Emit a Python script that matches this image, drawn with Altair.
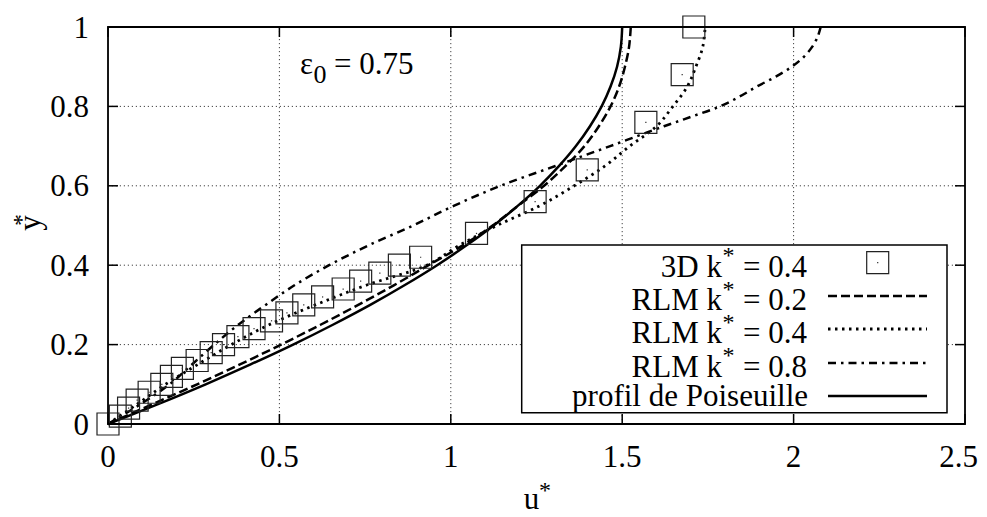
import altair as alt
import pandas as pd

# ---------------- data ----------------
Y_LEVELS = [0.0, 0.05, 0.10, 0.15, 0.20, 0.25, 0.30, 0.35, 0.40, 0.45, 0.50,
            0.55, 0.60, 0.65, 0.70, 0.75, 0.80, 0.85, 0.90, 0.95, 1.00]
U_POISEUILLE = [0.0, 0.146, 0.285, 0.416, 0.54, 0.656, 0.765, 0.866, 0.96, 1.046, 1.125,
                1.196, 1.26, 1.316, 1.365, 1.406, 1.44, 1.466, 1.485, 1.496, 1.50]
U_RLM_02 = [0.0, 0.13, 0.26, 0.385, 0.505, 0.62, 0.73, 0.835, 0.935, 1.035, 1.122,
            1.197, 1.272, 1.335, 1.39, 1.432, 1.466, 1.491, 1.508, 1.52, 1.525]
U_RLM_04 = [0.0, 0.085, 0.168, 0.262, 0.36, 0.47, 0.605, 0.755, 0.93, 1.025, 1.135,
            1.26, 1.36, 1.45, 1.522, 1.60, 1.648, 1.69, 1.715, 1.735, 1.742]
Y_RLM_08 = [0.0, 0.05, 0.10, 0.15, 0.20, 0.25, 0.30, 0.35, 0.40, 0.45, 0.50,
            0.55, 0.60, 0.65, 0.70, 0.75, 0.775, 0.80, 0.825, 0.85, 0.875,
            0.90, 0.925, 0.95, 0.975, 1.00]
U_RLM_08 = [0.0, 0.095, 0.18, 0.245, 0.31, 0.38, 0.46, 0.545, 0.645, 0.76, 0.89,
            1.01, 1.145, 1.305, 1.465, 1.622, 1.705, 1.785, 1.843, 1.893, 1.948,
            1.995, 2.03, 2.054, 2.07, 2.079]

SQ_U = [0.0, 0.036, 0.060, 0.085, 0.120, 0.157, 0.185, 0.217, 0.260, 0.301, 0.337,
        0.379, 0.426, 0.477, 0.522, 0.571, 0.626, 0.686, 0.737, 0.793, 0.850, 0.912,
        1.075, 1.246, 1.398, 1.569, 1.675, 1.709]
SQ_Y = [0.0, 0.02, 0.04, 0.06, 0.08, 0.10, 0.12, 0.14, 0.16, 0.18, 0.20,
        0.22, 0.24, 0.26, 0.28, 0.30, 0.32, 0.34, 0.36, 0.38, 0.40, 0.42,
        0.48, 0.56, 0.64, 0.76, 0.88, 1.00]

X_TICKS = [0, 0.5, 1, 1.5, 2, 2.5]
X_LABELS = ["0", "0.5", "1", "1.5", "2", "2.5"]
Y_TICKS = [0, 0.2, 0.4, 0.6, 0.8, 1]
Y_LABELS = ["0", "0.2", "0.4", "0.6", "0.8", "1"]

LEG_LEFT = ["3D k", "RLM k", "RLM k", "RLM k"]
LEG_RIGHT = ["= 0.4", "= 0.2", "= 0.4", "= 0.8"]
LEG_LAST = "profil de Poiseuille"

# ---------------- layout ----------------
W, H = 857, 397
PAD_R = 14
FONT = "Liberation Serif"
FS = 31
LW = 2.5

xs = alt.Scale(domain=[0, 2.5], nice=False, zero=False)
ys = alt.Scale(domain=[0, 1], nice=False, zero=False)
X = lambda f: alt.X(f, scale=xs, axis=None)
Y = lambda f: alt.Y(f, scale=ys, axis=None)

one = pd.DataFrame({"k": [0]})
layers = []

# grid (interior ticks only)
gx = pd.DataFrame({"v": X_TICKS[1:-1]})
gy = pd.DataFrame({"v": Y_TICKS[1:-1]})
layers.append(alt.Chart(gx).mark_rule(color="#444", strokeWidth=1, strokeDash=[1.2, 2.8])
              .encode(x=X("v:Q")))
layers.append(alt.Chart(gy).mark_rule(color="#444", strokeWidth=1, strokeDash=[1.2, 2.8])
              .encode(y=Y("v:Q")))

# curves
series = [(U_RLM_02, Y_LEVELS, [9, 4], LW),
          (U_RLM_04, Y_LEVELS, [2.5, 4.5], 2.8),
          (U_RLM_08, Y_RLM_08, [8, 5, 2.5, 5], LW),
          (U_POISEUILLE, Y_LEVELS, None, LW)]
for us, yv, dash, lw in series:
    df = pd.DataFrame({"u": us, "y": yv, "i": list(range(len(us)))})
    kw = dict(color="black", strokeWidth=lw, interpolate="catmull-rom")
    if dash is not None:
        kw["strokeDash"] = dash
    layers.append(alt.Chart(df).mark_line(**kw)
                  .encode(x=X("u:Q"), y=Y("y:Q"), order="i:Q"))

# 3D squares
sq = pd.DataFrame({"u": SQ_U, "y": SQ_Y})
layers.append(alt.Chart(sq).mark_point(shape="square", size=484, filled=False,
                                        stroke="#222", strokeWidth=1.2, opacity=1)
              .encode(x=X("u:Q"), y=Y("y:Q")))
layers.append(alt.Chart(sq).mark_point(shape="square", size=1.5, filled=True,
                                        color="#333", opacity=1)
              .encode(x=X("u:Q"), y=Y("y:Q")))

# inward ticks on all four sides
tx = pd.DataFrame({"v": X_TICKS, "lab": X_LABELS})
ty = pd.DataFrame({"v": Y_TICKS, "lab": Y_LABELS})
TL = 10
layers.append(alt.Chart(tx).mark_rule(color="black", strokeWidth=1.5)
              .encode(x=X("v:Q"), y=alt.value(H), y2=alt.value(H - TL)))
layers.append(alt.Chart(tx).mark_rule(color="black", strokeWidth=1.5)
              .encode(x=X("v:Q"), y=alt.value(0), y2=alt.value(TL)))
layers.append(alt.Chart(ty).mark_rule(color="black", strokeWidth=1.5)
              .encode(y=Y("v:Q"), x=alt.value(0), x2=alt.value(TL)))
layers.append(alt.Chart(ty).mark_rule(color="black", strokeWidth=1.5)
              .encode(y=Y("v:Q"), x=alt.value(W), x2=alt.value(W - TL)))

# tick labels (last x label kept inside the page edge)
layers.append(alt.Chart(tx.iloc[:-1]).mark_text(font=FONT, fontSize=FS, align="center",
                                                 baseline="alphabetic", color="black")
              .encode(x=X("v:Q"), y=alt.value(440), text="lab:N"))
layers.append(alt.Chart(tx.iloc[-1:]).mark_text(font=FONT, fontSize=FS, align="right",
                                                 baseline="alphabetic", color="black")
              .encode(x=alt.value(W + PAD_R - 1), y=alt.value(440), text="lab:N"))
layers.append(alt.Chart(ty).mark_text(font=FONT, fontSize=FS, align="right",
                                       baseline="alphabetic", dy=10.5, color="black")
              .encode(y=Y("v:Q"), x=alt.value(-19), text="lab:N"))

# legend box
LX0, LX1, LY0, LY1 = 413.7, 839, 218, 385.7
layers.append(alt.Chart(one).mark_rect(fill="white", stroke="black", strokeWidth=1.5)
              .encode(x=alt.value(LX0), x2=alt.value(LX1), y=alt.value(LY0), y2=alt.value(LY1)))

SAMPLE_Y = [235.7, 269, 302, 336, 369]
TEXT_BL = [249.7, 283, 316.3, 349.7, 379]
layers.append(alt.Chart(one).mark_point(shape="square", size=484, filled=False,
                                         stroke="#222", strokeWidth=1.2, opacity=1)
              .encode(x=alt.value(769.7), y=alt.value(SAMPLE_Y[0])))
layers.append(alt.Chart(one).mark_point(shape="square", size=1.5, filled=True,
                                         color="#333", opacity=1)
              .encode(x=alt.value(769.7), y=alt.value(SAMPLE_Y[0])))
for (us, yv, dash, lw), sy in zip(series, SAMPLE_Y[1:]):
    kw = dict(color="black", strokeWidth=lw)
    if dash is not None:
        kw["strokeDash"] = dash
    layers.append(alt.Chart(one).mark_rule(**kw)
                  .encode(x=alt.value(720), x2=alt.value(819), y=alt.value(sy)))

for left, right, bl in zip(LEG_LEFT, LEG_RIGHT, TEXT_BL[:4]):
    layers.append(alt.Chart(one).mark_text(font=FONT, fontSize=FS, align="right",
                                            baseline="alphabetic", text=left)
                  .encode(x=alt.value(614), y=alt.value(bl)))
    layers.append(alt.Chart(one).mark_text(font=FONT, fontSize=24, align="center",
                                            baseline="alphabetic", text="*")
                  .encode(x=alt.value(620.5), y=alt.value(bl - 13.3)))
    layers.append(alt.Chart(one).mark_text(font=FONT, fontSize=FS, align="left",
                                            baseline="alphabetic", text=right)
                  .encode(x=alt.value(635), y=alt.value(bl)))
layers.append(alt.Chart(one).mark_text(font=FONT, fontSize=FS, align="right",
                                        baseline="alphabetic", text=LEG_LAST)
              .encode(x=alt.value(700), y=alt.value(TEXT_BL[4])))

# annotation epsilon_0 = 0.75
layers.append(alt.Chart(one).mark_text(font=FONT, fontSize=FS, align="left",
                                        baseline="alphabetic", text="ε")
              .encode(x=alt.value(192), y=alt.value(47)))
layers.append(alt.Chart(one).mark_text(font=FONT, fontSize=26, align="left",
                                        baseline="alphabetic", text="0")
              .encode(x=alt.value(205.5), y=alt.value(56)))
layers.append(alt.Chart(one).mark_text(font=FONT, fontSize=FS, align="left",
                                        baseline="alphabetic", text="= 0.75")
              .encode(x=alt.value(226), y=alt.value(47)))

# axis titles
layers.append(alt.Chart(one).mark_text(font=FONT, fontSize=FS, align="center",
                                        baseline="alphabetic", text="u")
              .encode(x=alt.value(423.5), y=alt.value(482)))
layers.append(alt.Chart(one).mark_text(font=FONT, fontSize=24, align="center",
                                        baseline="alphabetic", text="*")
              .encode(x=alt.value(437), y=alt.value(471)))
layers.append(alt.Chart(one).mark_text(font=FONT, fontSize=FS, align="center",
                                        baseline="middle", angle=270, text="y")
              .encode(x=alt.value(-77), y=alt.value(196)))
layers.append(alt.Chart(one).mark_text(font=FONT, fontSize=24, align="center",
                                        baseline="middle", angle=270, text="*")
              .encode(x=alt.value(-86), y=alt.value(193)))

# plot border
layers.append(alt.Chart(one).mark_rect(fill=None, filled=False, stroke="black", strokeWidth=1.8)
              .encode(x=alt.value(0), x2=alt.value(W), y=alt.value(0), y2=alt.value(H)))

chart = alt.layer(*layers).properties(
    width=W, height=H,
    autosize=alt.AutoSizeParams(type="none"),
    padding={"left": 100, "top": 19, "right": PAD_R, "bottom": 93},
).configure_view(strokeWidth=0).configure(background="white")

chart.save("out.html", embed_options={"renderer": "svg", "actions": False})
